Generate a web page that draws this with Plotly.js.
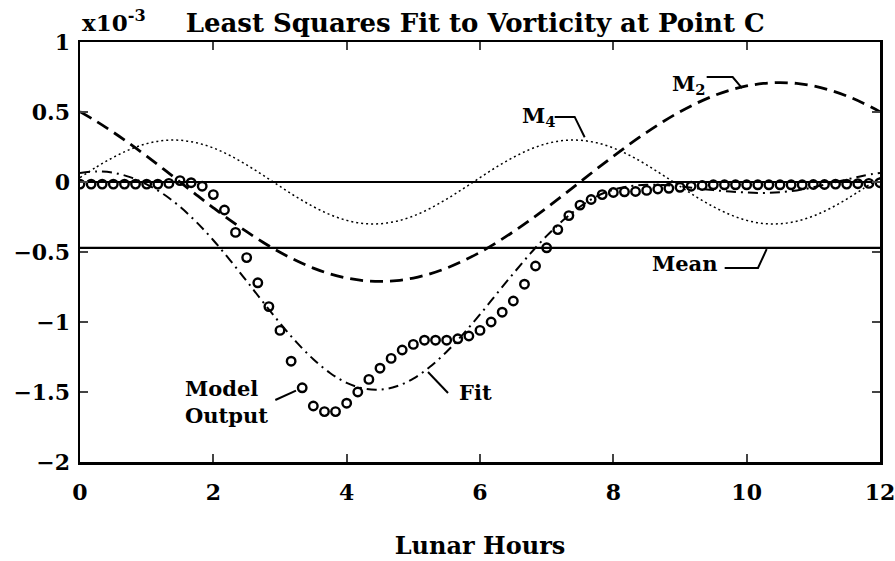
<!DOCTYPE html>
<html>
<head>
<meta charset="utf-8">
<script src="https://cdn.plot.ly/plotly-3.0.1.min.js"></script>
<style>html,body{margin:0;padding:0;background:#fff;}#chart{width:895px;height:561px;}</style>
</head>
<body>
<div id="chart"></div>
<script>
// Component curves (x10^-3), sampled every 0.25 lunar hour
var curveHours = [0,0.25,0.5,0.75,1,1.25,1.5,1.75,2,2.25,2.5,2.75,3,3.25,3.5,3.75,4,4.25,4.5,4.75,5,5.25,5.5,5.75,6,6.25,6.5,6.75,7,7.25,7.5,7.75,8,8.25,8.5,8.75,9,9.25,9.5,9.75,10,10.25,10.5,10.75,11,11.25,11.5,11.75,12];
var m2Values = [0.502,0.432,0.355,0.272,0.184,0.093,0,-0.093,-0.184,-0.272,-0.355,-0.432,-0.502,-0.563,-0.615,-0.656,-0.686,-0.704,-0.71,-0.704,-0.686,-0.656,-0.615,-0.563,-0.502,-0.432,-0.355,-0.272,-0.184,-0.093,0,0.093,0.184,0.272,0.355,0.432,0.502,0.563,0.615,0.656,0.686,0.704,0.71,0.704,0.686,0.656,0.615,0.563,0.502];
var m4Values = [0.031,0.108,0.176,0.233,0.274,0.296,0.298,0.280,0.243,0.189,0.122,0.047,-0.031,-0.108,-0.176,-0.233,-0.274,-0.296,-0.298,-0.280,-0.243,-0.189,-0.122,-0.047,0.031,0.108,0.176,0.233,0.274,0.296,0.298,0.280,0.243,0.189,0.122,0.047,-0.031,-0.108,-0.176,-0.233,-0.274,-0.296,-0.298,-0.280,-0.243,-0.189,-0.122,-0.047,0.031];
var fitValues = [0.065,0.075,0.066,0.035,-0.017,-0.086,-0.177,-0.288,-0.416,-0.558,-0.708,-0.860,-1.008,-1.146,-1.266,-1.364,-1.435,-1.475,-1.483,-1.459,-1.404,-1.320,-1.212,-1.085,-0.946,-0.799,-0.654,-0.514,-0.385,-0.272,-0.177,-0.102,-0.055,-0.030,-0.020,-0.022,-0.030,-0.045,-0.058,-0.068,-0.075,-0.078,-0.073,-0.060,-0.038,-0.010,0.018,0.045,0.065];
var meanValue = -0.47;
var meanHours = [0, 12];

// Model output (circles), every 1/6 lunar hour
var modelHours = [0,0.167,0.333,0.5,0.667,0.833,1,1.167,1.333,1.5,1.667,1.833,2,2.167,2.333,2.5,2.667,2.833,3,3.167,3.333,3.5,3.667,3.833,4,4.167,4.333,4.5,4.667,4.833,5,5.167,5.333,5.5,5.667,5.833,6,6.167,6.333,6.5,6.667,6.833,7,7.167,7.333,7.5,7.667,7.833,8,8.167,8.333,8.5,8.667,8.833,9,9.167,9.333,9.5,9.667,9.833,10,10.167,10.333,10.5,10.667,10.833,11,11.167,11.333,11.5,11.667,11.833,12];
var modelValues = [-0.015,-0.015,-0.015,-0.015,-0.015,-0.015,-0.015,-0.015,-0.01,0.01,-0.005,-0.03,-0.09,-0.2,-0.36,-0.54,-0.72,-0.89,-1.06,-1.28,-1.47,-1.6,-1.64,-1.64,-1.58,-1.5,-1.41,-1.33,-1.26,-1.2,-1.16,-1.13,-1.13,-1.13,-1.12,-1.1,-1.06,-1.0,-0.93,-0.85,-0.73,-0.6,-0.47,-0.34,-0.24,-0.165,-0.125,-0.09,-0.075,-0.07,-0.068,-0.06,-0.05,-0.045,-0.038,-0.03,-0.025,-0.02,-0.02,-0.02,-0.02,-0.02,-0.02,-0.02,-0.02,-0.02,-0.018,-0.018,-0.015,-0.015,-0.012,-0.01,-0.005];

var xTicks = [0,2,4,6,8,10,12];
var yTicks = [1,0.5,0,-0.5,-1,-1.5,-2];
var yTickText = ['1','0.5','0','\u22120.5','\u22121','\u22121.5','\u22122'];

var FONT = 'DejaVu Serif';
var traces = [
  {x: meanHours, y: [meanValue, meanValue], mode: 'lines', line: {color: '#000', width: 2.2}, hoverinfo: 'skip'},
  {x: curveHours, y: m2Values, mode: 'lines', line: {color: '#000', width: 2.8, dash: '13px,7px', shape: 'spline'}},
  {x: curveHours, y: m4Values, mode: 'lines', line: {color: '#000', width: 1.5, dash: '2px,3px', shape: 'spline'}},
  {x: curveHours, y: fitValues, mode: 'lines', line: {color: '#000', width: 2, dash: '10px,5px,2px,5px', shape: 'spline'}},
  {x: modelHours, y: modelValues, mode: 'markers', marker: {symbol: 'circle-open', size: 8.5, color: '#000', line: {width: 2.4, color: '#000'}}}
];

var lab = {family: FONT, size: 21, color: '#000', weight: 'bold'};
var layout = {
  width: 895, height: 561,
  margin: {l: 80, r: 15, t: 42, b: 99},
  paper_bgcolor: '#fff', plot_bgcolor: '#fff',
  showlegend: false,
  font: {family: FONT, color: '#000'},
  title: {text: 'Least Squares Fit to Vorticity at Point C', font: {family: FONT, size: 26, color: '#000', weight: 'bold'},
          xref: 'paper', x: 0.494, xanchor: 'center', yref: 'container', y: 0.96, yanchor: 'middle'},
  xaxis: {range: [0, 12], tickvals: xTicks, ticktext: xTicks.map(String), ticks: 'inside', ticklen: 8, tickwidth: 2,
          showline: true, linewidth: 2.5, linecolor: '#000', mirror: 'ticks', showgrid: false, zeroline: false,
          ticklabeloverflow: 'allow',
          tickfont: {family: FONT, size: 22, color: '#000', weight: 'bold'}, ticklabelstandoff: 9,
          title: {text: 'Lunar Hours', font: {family: FONT, size: 24, color: '#000', weight: 'bold'}, standoff: 34}},
  yaxis: {range: [-2, 1], tickvals: yTicks, ticktext: yTickText, ticks: 'inside', ticklen: 8, tickwidth: 2,
          showline: true, linewidth: 2.5, linecolor: '#000', mirror: 'ticks', showgrid: false,
          zeroline: true, zerolinecolor: '#000', zerolinewidth: 2.4, ticklabeloverflow: 'allow',
          tickfont: {family: FONT, size: 22, color: '#000', weight: 'bold'}, ticklabelstandoff: 3},
  annotations: [
    {xref: 'paper', yref: 'paper', x: 0, y: 1.05, xanchor: 'left', yanchor: 'middle', showarrow: false,
     text: 'x10<sup>-3</sup>', font: {family: FONT, size: 23, color: '#000', weight: 'bold'}},
    {xref: 'x', yref: 'y', x: 8.85, y: 0.70, xanchor: 'left', yanchor: 'middle', showarrow: false, text: 'M<sub>2</sub>', font: lab},
    {xref: 'x', yref: 'y', x: 6.6, y: 0.47, xanchor: 'left', yanchor: 'middle', showarrow: false, text: 'M<sub>4</sub>', font: lab},
    {xref: 'x', yref: 'y', x: 8.55, y: -0.58, xanchor: 'left', yanchor: 'middle', showarrow: false, text: 'Mean', font: lab},
    {xref: 'x', yref: 'y', x: 5.66, y: -1.5, xanchor: 'left', yanchor: 'middle', showarrow: false, text: 'Fit', font: lab},
    {xref: 'x', yref: 'y', x: 1.55, y: -1.57, xanchor: 'left', yanchor: 'middle', align: 'left', showarrow: false, text: 'Model<br>Output', font: lab}
  ],
  shapes: [
    {type: 'path', xref: 'x', yref: 'y', path: 'M 9.40 0.75 L 9.79 0.75 L 9.93 0.67', line: {color: '#000', width: 2}},
    {type: 'path', xref: 'x', yref: 'y', path: 'M 7.12 0.465 L 7.42 0.465 L 7.57 0.32', line: {color: '#000', width: 2}},
    {type: 'path', xref: 'x', yref: 'y', path: 'M 9.67 -0.614 L 10.17 -0.614 L 10.30 -0.48', line: {color: '#000', width: 2}},
    {type: 'path', xref: 'x', yref: 'y', path: 'M 5.52 -1.507 L 5.22 -1.357', line: {color: '#000', width: 2}},
    {type: 'path', xref: 'x', yref: 'y', path: 'M 2.93 -1.557 L 3.24 -1.49', line: {color: '#000', width: 2}}
  ]
};

Plotly.newPlot('chart', traces, layout, {displayModeBar: false, staticPlot: true});
</script>
</body>
</html>
